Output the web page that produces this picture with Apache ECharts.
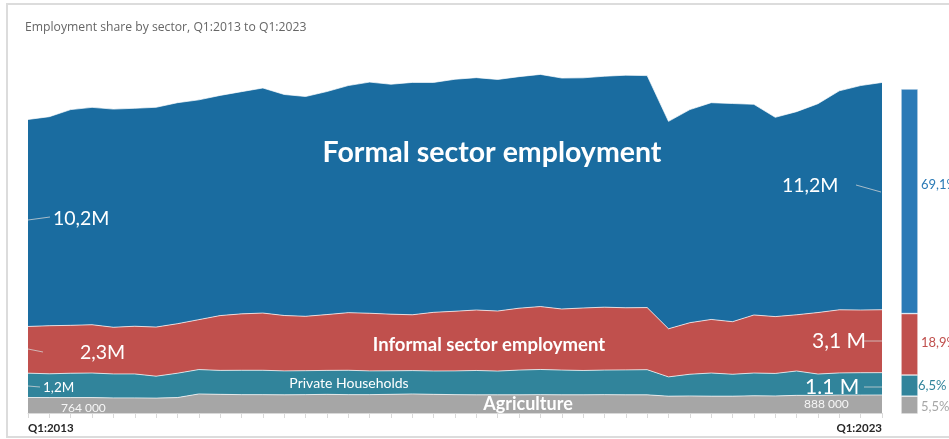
<!DOCTYPE html>
<html>
<head>
<meta charset="utf-8">
<script src="https://cdn.jsdelivr.net/npm/echarts@6/dist/echarts.min.js"></script>
<style>
  html, body { margin: 0; padding: 0; background: #ffffff; }
  #chart { width: 949px; height: 439px; }
</style>
</head>
<body>
<div id="chart"></div>
<script>
// Quarterly employment by sector, millions of people
const quarters = [
  'Q1:2013','Q2:2013','Q3:2013','Q4:2013','Q1:2014','Q2:2014','Q3:2014','Q4:2014',
  'Q1:2015','Q2:2015','Q3:2015','Q4:2015','Q1:2016','Q2:2016','Q3:2016','Q4:2016',
  'Q1:2017','Q2:2017','Q3:2017','Q4:2017','Q1:2018','Q2:2018','Q3:2018','Q4:2018',
  'Q1:2019','Q2:2019','Q3:2019','Q4:2019','Q1:2020','Q2:2020','Q3:2020','Q4:2020',
  'Q1:2021','Q2:2021','Q3:2021','Q4:2021','Q1:2022','Q2:2022','Q3:2022','Q4:2022',
  'Q1:2023'
];
const formal = [10.2,10.30,10.63,10.71,10.75,10.74,10.83,10.89,10.83,10.85,10.95,11.09,10.89,10.83,10.99,11.19,11.39,11.33,11.45,11.33,11.43,11.45,11.41,11.41,11.44,11.38,11.34,11.38,11.46,11.43,10.22,10.50,10.68,10.75,10.38,9.82,10.01,10.29,10.79,11.06,11.2];
const informal = [2.3,2.37,2.36,2.38,2.30,2.35,2.42,2.44,2.46,2.70,2.78,2.82,2.73,2.68,2.75,2.84,2.84,2.79,2.75,2.89,2.94,2.98,2.96,3.05,3.10,3.01,3.08,3.10,3.06,3.06,2.37,2.54,2.64,2.59,2.86,2.80,2.77,3.03,3.11,3.09,3.1];
const households = [1.2,1.17,1.2,1.21,1.18,1.18,1.08,1.2,1.2,1.18,1.2,1.2,1.18,1.18,1.18,1.2,1.17,1.16,1.15,1.15,1.17,1.2,1.17,1.22,1.24,1.22,1.2,1.21,1.23,1.24,0.95,1.07,1.14,1.08,1.12,1.11,1.2,1.05,1.09,1.1,1.1];
const agriculture = [0.764,0.761,0.76,0.76,0.745,0.745,0.734,0.76,0.94,0.92,0.905,0.905,0.895,0.905,0.92,0.905,0.905,0.92,0.94,0.92,0.905,0.895,0.895,0.895,0.905,0.895,0.895,0.905,0.895,0.895,0.83,0.84,0.83,0.83,0.85,0.84,0.87,0.87,0.885,0.885,0.888];

// Sector shares in Q1:2023, percent (agriculture, households, informal, formal)
const shareSectors = ['Agriculture', 'Private Households', 'Informal sector employment', 'Formal sector employment'];
const shares = [5.5, 6.5, 18.9, 69.1];

const COLORS = {
  formal: '#1a6ca0',
  informal: '#c0504d',
  households: '#31849b',
  agriculture: '#a6a6a6'
};

const last = quarters.length - 1;
const commaM = v => v.toFixed(1).replace('.', ',') + 'M';
const commaSpaceM = v => v.toFixed(1).replace('.', ',') + ' M';
const dotSpaceM = v => v.toFixed(1) + ' M';
const thousands = v => String(Math.round(v * 1000)) + ' 000';
const pct = v => v.toFixed(1).replace('.', ',') + '%';

const LABEL_FONT = 'Lato, "Open Sans", sans-serif';
const leader = 'rgba(215,215,215,0.75)';

function areaSeries(name, data, color) {
  return {
    name: name,
    type: 'line',
    stack: 'total',
    stackOrder: 'seriesDesc',
    data: data,
    symbol: 'none',
    smooth: false,
    lineStyle: { color: 'rgba(255,255,255,0.7)', width: 1 },
    areaStyle: { color: color, opacity: 1 },
    itemStyle: { color: color },
    emphasis: { disabled: true },
    xAxisIndex: 0,
    yAxisIndex: 0,
    z: 2
  };
}

function shareBar(idx, color, offset) {
  return {
    name: shareSectors[idx],
    type: 'bar',
    stack: 'share',
    xAxisIndex: 1,
    yAxisIndex: 1,
    barWidth: '100%',
    data: [shares[idx]],
    itemStyle: { color: color, borderColor: 'rgba(255,255,255,0.8)', borderWidth: 0.6 },
    label: {
      show: true,
      position: 'right',
      distance: 3,
      offset: offset,
      color: color,
      fontSize: 13,
      fontFamily: LABEL_FONT,
      formatter: p => pct(p.value)
    },
    emphasis: { disabled: true }
  };
}

function txt(x, y, text, size, weight, color, align) {
  return {
    type: 'text',
    x: x, y: y,
    silent: true,
    z: 50,
    style: {
      text: text,
      fontSize: size,
      fontWeight: weight,
      fontFamily: LABEL_FONT,
      fill: color,
      textAlign: align || 'left',
      textVerticalAlign: 'middle'
    }
  };
}

function seg(x1, y1, x2, y2) {
  return {
    type: 'line',
    silent: true,
    z: 50,
    shape: { x1: x1, y1: y1, x2: x2, y2: y2 },
    style: { stroke: leader, lineWidth: 1 }
  };
}

const chart = echarts.init(document.getElementById('chart'), null, { renderer: 'canvas' });

chart.setOption({
  animation: false,
  backgroundColor: '#ffffff',
  title: {
    text: 'Employment share by sector, Q1:2013 to Q1:2023',
    left: 20,
    top: 17,
    textStyle: {
      color: '#666666',
      fontSize: 12.2,
      fontWeight: 'normal',
      fontFamily: '"Open Sans", "Noto Sans", sans-serif'
    }
  },
  grid: [
    { left: 28, right: 67, top: 68, bottom: 26 },
    { left: 901, width: 17, top: 89, bottom: 25 }
  ],
  xAxis: [
    {
      type: 'category',
      gridIndex: 0,
      data: quarters,
      boundaryGap: false,
      axisLine: { show: true, lineStyle: { color: '#d9d9d9', width: 1 } },
      axisTick: { show: true, interval: 0, length: 5, lineStyle: { color: '#d9d9d9' } },
      axisLabel: {
        interval: (i) => i === 0 || i === last,
        alignMinLabel: 'left',
        alignMaxLabel: 'right',
        color: '#262626',
        fontWeight: 'bold',
        fontSize: 11.5,
        fontFamily: LABEL_FONT,
        margin: 9
      },
      splitLine: { show: false }
    },
    {
      type: 'category',
      gridIndex: 1,
      data: ['Q1:2023'],
      show: false
    }
  ],
  yAxis: [
    { type: 'value', gridIndex: 0, min: 0, max: 17, show: false, splitLine: { show: false } },
    { type: 'value', gridIndex: 1, min: 0, max: 100, show: false, splitLine: { show: false } }
  ],
  series: [
    areaSeries('Formal sector employment', formal, COLORS.formal),
    areaSeries('Informal sector employment', informal, COLORS.informal),
    areaSeries('Private Households', households, COLORS.households),
    areaSeries('Agriculture', agriculture, COLORS.agriculture),
    shareBar(0, COLORS.agriculture, [0, 2]),
    shareBar(1, COLORS.households, [-3, 0]),
    shareBar(2, COLORS.informal, [0, -1]),
    shareBar(3, '#2a7ab6', [0, -16])
  ],
  graphic: [
    // outer frame
    {
      type: 'rect', silent: true, z: 0,
      shape: { x: 7, y: 4, width: 1000, height: 433 },
      style: { fill: 'none', stroke: '#dcdcdc', lineWidth: 2 }
    },
    // sector names
    txt(492, 153, 'Formal sector employment', 28.5, 'bold', '#ffffff', 'center'),
    txt(489, 345, 'Informal sector employment', 18.5, 'bold', '#ffffff', 'center'),
    txt(349, 383, 'Private Households', 14, 'normal', '#ffffff', 'center'),
    txt(528, 404, 'Agriculture', 18, 'bold', '#ffffff', 'center'),
    // first-quarter values
    seg(28, 220, 50, 217),
    txt(53, 219, commaM(formal[0]), 19.5, 'normal', '#ffffff'),
    seg(28, 349, 43, 352),
    txt(80, 353, commaM(informal[0]), 19.5, 'normal', '#ffffff'),
    seg(28, 386, 40, 387),
    txt(43, 388, commaM(households[0]), 13.5, 'normal', '#ffffff'),
    txt(61, 408, thousands(agriculture[0]), 12, 'normal', 'rgba(255,255,255,0.9)'),
    // last-quarter values
    txt(782, 186, commaM(formal[last]), 19.5, 'normal', '#ffffff'),
    seg(856, 185, 881, 192),
    txt(812, 341, commaSpaceM(informal[last]), 21, 'normal', '#ffffff'),
    seg(864, 341, 882, 341),
    txt(805, 387, dotSpaceM(households[last]), 21, 'normal', '#ffffff'),
    seg(864, 387, 882, 387),
    txt(804, 404, thousands(agriculture[last]), 12, 'normal', 'rgba(255,255,255,0.9)')
  ]
});
</script>
</body>
</html>
